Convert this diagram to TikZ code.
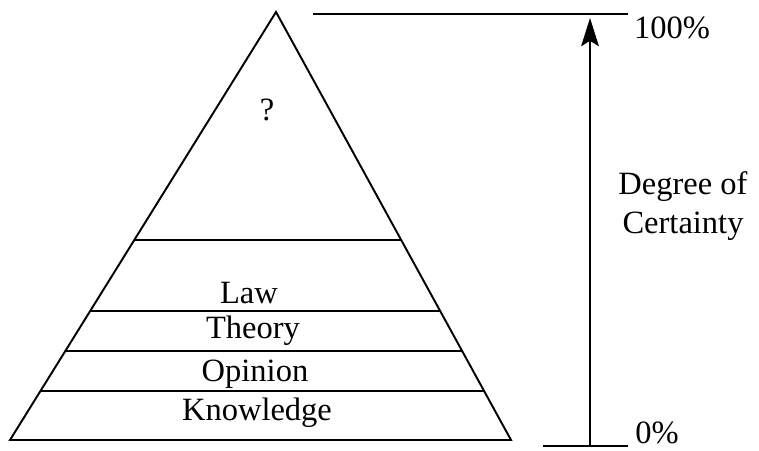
\documentclass[tikz,border=0pt]{standalone}
\usepackage{fontspec}
\setmainfont{Liberation Serif}
\usetikzlibrary{arrows.meta,calc}

\begin{document}
\begin{tikzpicture}[x=0.02cm,y=-0.02cm,>={Stealth[length=16pt,width=10pt,inset=3pt]},
    font=\fontsize{18.5}{22}\selectfont,
    layer/.style={line width=1.1pt},
    lbl/.style={inner sep=0pt}]
  \useasboundingbox (0,0) rectangle (759,450);
  % pyramid outline
  \coordinate (apex) at (276,12);
  \coordinate (bl) at (10,440);
  \coordinate (br) at (511,440);
  \draw[layer,line join=miter] (apex) -- (bl) -- (br) -- cycle;
  % layer boundaries
  \foreach \h [count=\k] in {240,311,351,391} {
    \coordinate (l\k) at ($(apex)!{(\h-12)/428}!(bl)$);
    \coordinate (r\k) at ($(apex)!{(\h-12)/428}!(br)$);
    \draw[layer] (l\k) -- (r\k);
  }
  \node[lbl] (q)    at (267,110) {?};
  \node[lbl] (law)  at (249,293) {Law};
  \node[lbl] (theo) at (253,331) {Theory};
  \node[lbl] (opin) at (255,374) {Opinion};
  \node[lbl] (know) at (257,413) {Knowledge};
  % certainty scale
  \coordinate (t0) at (313,14);
  \coordinate (t1) at (628,14);
  \coordinate (b0) at (543,446);
  \coordinate (b1) at (628,446);
  \draw[layer] (t0) -- (t1);
  \draw[layer] (b0) -- (b1);
  \coordinate (ab) at (590,446);
  \coordinate (at) at (590,18);
  \draw[->,line width=1.4pt] (ab) -- (at);
  \node[lbl] (full) at (672,28) {100\%};
  \node[lbl] (none) at (657,433) {0\%};
  \node[lbl,align=center] (deg) at (683,206) {Degree of\\Certainty};
\end{tikzpicture}
\end{document}
